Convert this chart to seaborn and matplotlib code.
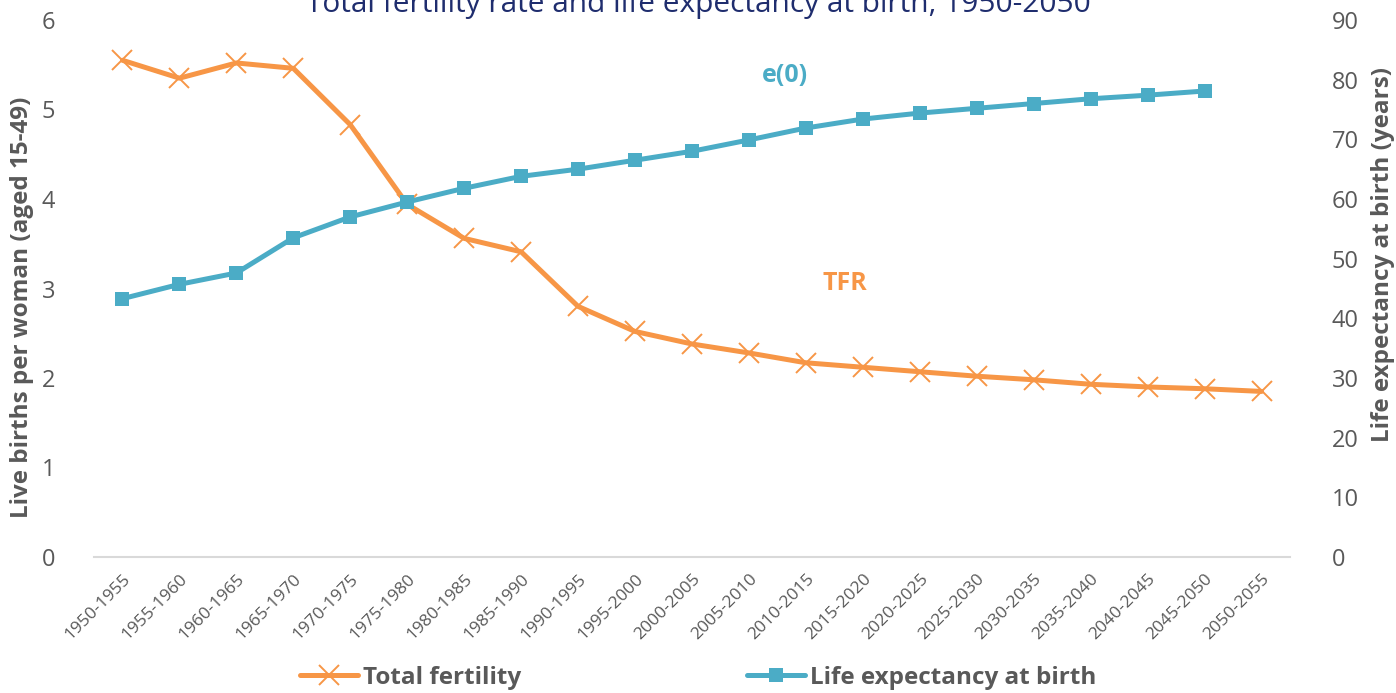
import pandas as pd
import numpy as np
import matplotlib
matplotlib.use("Agg")
import matplotlib.pyplot as plt
import seaborn as sns
from matplotlib.lines import Line2D

periods = ["1950-1955", "1955-1960", "1960-1965", "1965-1970", "1970-1975",
           "1975-1980", "1980-1985", "1985-1990", "1990-1995", "1995-2000",
           "2000-2005", "2005-2010", "2010-2015", "2015-2020", "2020-2025",
           "2025-2030", "2030-2035", "2035-2040", "2040-2045", "2045-2050",
           "2050-2055"]
tfr = [5.55, 5.35, 5.52, 5.46, 4.83, 3.94, 3.56, 3.41, 2.80, 2.52,
       2.38, 2.28, 2.17, 2.12, 2.07, 2.02, 1.98, 1.93, 1.90, 1.88, 1.85]
e0 = [43.3, 45.7, 47.6, 53.5, 57.0, 59.5, 61.8, 63.8, 65.0, 66.5,
      68.0, 69.9, 71.9, 73.4, 74.4, 75.2, 76.0, 76.8, 77.4, 78.1, np.nan]

ORANGE = "#F79646"
BLUE = "#4BACC6"
GREY = "#595959"
FONT = "Open Sans"

sns.set_style("white")
plt.rcParams["font.family"] = [FONT, "DejaVu Sans"]

df = pd.DataFrame({"period": periods, "tfr": tfr, "e0": e0})

fig = plt.figure(figsize=(13.96, 6.93), dpi=100)
ax = fig.add_axes([94 / 1396, 1 - 557 / 693, (1290 - 94) / 1396, (557 - 20) / 693])
ax2 = ax.twinx()

sns.lineplot(data=df, x="period", y="tfr", ax=ax, color=ORANGE, linewidth=3.6,
             marker="x", markersize=15, markeredgewidth=1.4,
             markeredgecolor=ORANGE, sort=False)
sns.lineplot(data=df.dropna(), x="period", y="e0", ax=ax2, color=BLUE, linewidth=3.6,
             marker="s", markersize=10, markeredgewidth=0,
             markerfacecolor=BLUE, sort=False)

ax.set_xlim(-0.5, len(periods) - 0.5)
ax.set_ylim(0, 6)
ax2.set_ylim(0, 90)
ax.set_yticks(range(0, 7))
ax2.set_yticks(range(0, 91, 10))

for a in (ax, ax2):
    for s in ["top", "left", "right"]:
        a.spines[s].set_visible(False)
    a.spines["bottom"].set_color("#D9D9D9")
    a.spines["bottom"].set_linewidth(1.5)
    a.tick_params(length=0, colors=GREY, labelsize=17)
    a.set_xlabel("")
    a.set_ylabel("")
ax2.spines["bottom"].set_visible(False)

ax.tick_params(axis="y", pad=28)
ax2.tick_params(axis="y", pad=30)
ax.set_xticks(range(len(periods)))
ax.set_xticklabels(periods, rotation=45, ha="right", rotation_mode="anchor",
                   fontsize=12.5, color=GREY)
ax.tick_params(axis="x", pad=10)

fig.text(22 / 1396, 1 - 307 / 693, "Live births per woman (aged 15-49)", rotation=90,
         ha="center", va="center", fontsize=17.5, fontweight="bold", color=GREY)
fig.text(1383 / 1396, 1 - 255 / 693, "Life expectancy at birth (years)", rotation=90,
         ha="center", va="center", fontsize=17.5, fontweight="bold", color=GREY)

fig.text(0.5, 1 - 12 / 693, "Total fertility rate and life expectancy at birth, 1950-2050",
         ha="center", va="baseline", fontsize=21.5, color="#1F2D6E")

fig.text(785 / 1396, 1 - 75 / 693, "e(0)", ha="center", va="center",
         fontsize=18, fontweight="bold", color=BLUE)
fig.text(845 / 1396, 1 - 283 / 693, "TFR", ha="center", va="center",
         fontsize=18, fontweight="bold", color=ORANGE)

handles = [
    Line2D([], [], color=ORANGE, linewidth=3.6, marker="x", markersize=15,
           markeredgewidth=1.4),
    Line2D([], [], color=BLUE, linewidth=3.6, marker="s", markersize=10,
           markeredgewidth=0),
]
fig.legend(handles, ["Total fertility", "Life expectancy at birth"],
           loc="center", bbox_to_anchor=(698 / 1396, 1 - 678 / 693), ncol=2,
           frameon=False, handlelength=2.4, handletextpad=0.2, columnspacing=9.3,
           prop={"family": FONT, "weight": "bold", "size": 17.5},
           labelcolor=GREY)

fig.savefig("out.png", dpi=100)
